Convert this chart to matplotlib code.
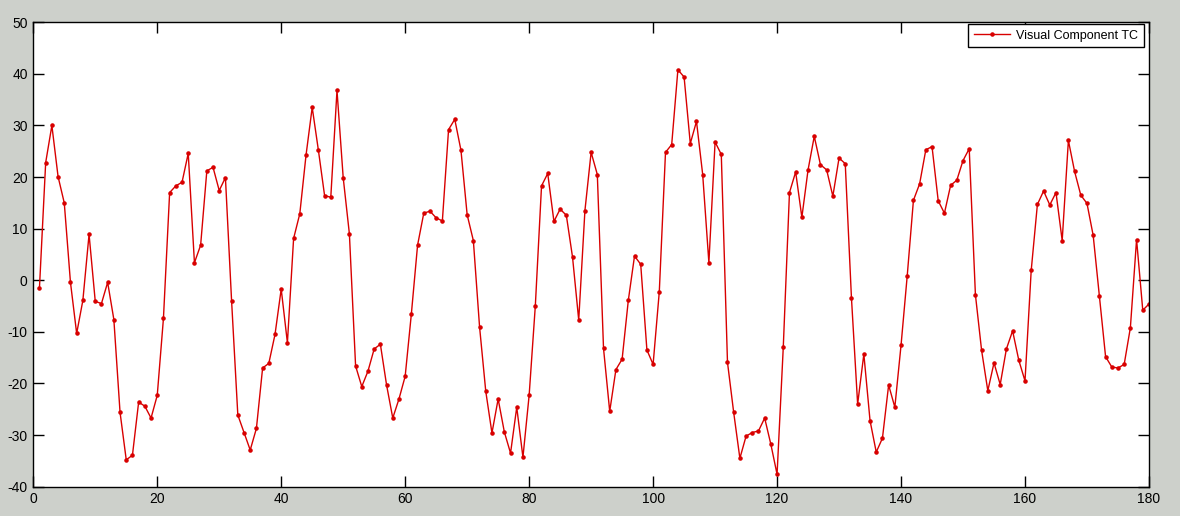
import numpy as np
import matplotlib
matplotlib.use('Agg')
import matplotlib.pyplot as plt

# Giá trị (t = 1..180)
tc_values = [
    -1.4, 22.8, 30.0, 20.1, 15.0, -0.4, -10.3, -3.9, 8.9, -4.1,
    -4.5, -0.4, -7.6, -25.6, -34.8, -33.9, -23.6, -24.4, -26.7, -22.3,
    -7.4, 17.0, 18.3, 19.0, 24.6, 3.4, 6.8, 21.2, 21.9, 17.4,
    19.9, -4.1, -26.1, -29.5, -32.9, -28.7, -17.0, -16.1, -10.5, -1.7,
    -12.1, 8.1, 12.9, 24.2, 33.5, 25.2, 16.4, 16.1, 36.8, 19.9,
    9.0, -16.6, -20.6, -17.6, -13.3, -12.4, -20.3, -26.7, -23.0, -18.6,
    -6.5, 6.8, 13.0, 13.4, 12.1, 11.5, 29.2, 31.2, 25.2, 12.7,
    7.7, -9.0, -21.5, -29.6, -23.0, -29.4, -33.5, -24.6, -34.3, -22.3,
    -4.9, 18.3, 20.7, 11.4, 13.8, 12.6, 4.5, -7.7, 13.5, 24.8,
    20.5, -13.2, -25.4, -17.3, -15.3, -3.9, 4.7, 3.1, -13.5, -16.3,
    -2.2, 24.8, 26.3, 40.8, 39.4, 26.5, 30.8, 20.5, 3.4, 26.8,
    24.4, -15.9, -25.6, -34.5, -30.2, -29.5, -29.2, -26.7, -31.8, -37.6,
    -13.0, 17.0, 21.0, 12.2, 21.4, 27.9, 22.4, 21.4, 16.3, 23.7,
    22.6, -3.4, -24.0, -14.3, -27.2, -33.3, -30.6, -20.3, -24.6, -12.6,
    0.9, 15.5, 18.7, 25.3, 25.9, 15.4, 13.0, 18.4, 19.4, 23.2,
    25.5, -2.8, -13.6, -21.4, -16.0, -20.2, -13.3, -9.8, -15.5, -19.5,
    1.9, 14.7, 17.3, 14.6, 17.0, 7.7, 27.1, 21.1, 16.5, 14.9,
    8.7, -3.1, -14.8, -16.8, -17.0, -16.3, -9.2, 7.9, -5.8, -4.6,
]
t = np.arange(1, len(tc_values) + 1)
x_ticks = [0, 20, 40, 60, 80, 100, 120, 140, 160, 180]
y_ticks = [-40, -30, -20, -10, 0, 10, 20, 30, 40, 50]

plt.rcParams['font.family'] = ['Liberation Sans', 'DejaVu Sans']
plt.rcParams['axes.unicode_minus'] = False

fig = plt.figure(figsize=(11.8, 5.16), dpi=100, facecolor='#CDD0CB')
ax = fig.add_axes([0.0282, 0.0568, 0.9455, 0.9000])
ax.plot(t, tc_values, color='#D80000', linewidth=1.0, marker='.', markersize=4.5,
        label='Visual Component TC')

ax.set_xlim(0, 180)
ax.set_ylim(-40, 50)
ax.set_xticks(x_ticks)
ax.set_yticks(y_ticks)
ax.tick_params(direction='in', length=8, width=1, top=True, right=True,
               labelsize=10, pad=4)
for s in ax.spines.values():
    s.set_linewidth(1)

leg = ax.legend(loc='upper right', bbox_to_anchor=(0.9955, 0.996), fontsize=9,
                fancybox=False, framealpha=1, edgecolor='black', borderaxespad=0,
                handlelength=2.9, handletextpad=0.5, borderpad=0.45)
leg.get_frame().set_linewidth(1)

fig.savefig('out.png', dpi=100, facecolor=fig.get_facecolor())
